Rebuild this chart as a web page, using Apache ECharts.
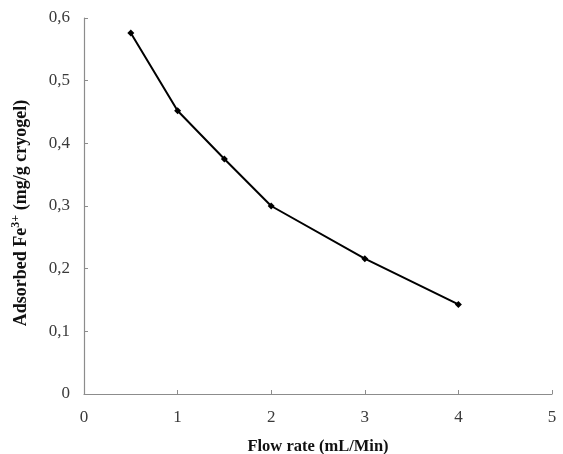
<!DOCTYPE html>
<html>
<head>
<meta charset="utf-8">
<script src="https://cdn.jsdelivr.net/npm/echarts@6/dist/echarts.min.js"></script>
<style>
  html, body { margin: 0; padding: 0; background: #fff; }
  #chart { width: 563px; height: 454px; }
</style>
</head>
<body>
<div id="chart"></div>
<script>
// Flow rate (mL/Min) versus adsorbed Fe3+ (mg/g cryogel)
const flowRates = [0.5, 1, 1.5, 2, 3, 4];
const adsorbed = [0.576, 0.452, 0.375, 0.300, 0.216, 0.143];

const xTicks = [0, 1, 2, 3, 4, 5];
const yTicks = [0, 0.1, 0.2, 0.3, 0.4, 0.5, 0.6];

const serif = '"Liberation Serif", "Times New Roman", serif';
const comma = v => String(+v.toFixed(1)).replace('.', ',');

const chart = echarts.init(document.getElementById('chart'), null, { renderer: 'canvas' });

const axisCommon = {
  axisLine: { show: true, lineStyle: { color: '#8c8c8c', width: 1.2 } },
  axisTick: { show: true, inside: true, length: 4, lineStyle: { color: '#8c8c8c', width: 1 } },
  splitLine: { show: false },
  axisLabel: { color: '#3a3a3a', fontFamily: serif, fontSize: 17 }
};

chart.setOption({
  animation: false,
  backgroundColor: '#fff',
  grid: { left: 84, top: 18, right: 11, bottom: 60, containLabel: false, outerBoundsMode: 'none' },
  xAxis: Object.assign({}, axisCommon, {
    type: 'value',
    min: xTicks[0],
    max: xTicks[xTicks.length - 1],
    interval: 1,
    axisLabel: Object.assign({}, axisCommon.axisLabel, { margin: 15, formatter: v => comma(v) }),
    name: 'Flow rate (mL/Min)',
    nameLocation: 'middle',
    nameGap: 44,
    nameTextStyle: { fontFamily: serif, fontSize: 16.5, fontWeight: 'bold', color: '#111' }
  }),
  yAxis: Object.assign({}, axisCommon, {
    type: 'value',
    min: yTicks[0],
    max: yTicks[yTicks.length - 1],
    interval: 0.1,
    axisLabel: Object.assign({}, axisCommon.axisLabel, { margin: 14, formatter: v => comma(v) }),
    name: '{t|Adsorbed Fe}{sup|3+}{t| (mg/g cryogel)}',
    nameLocation: 'middle',
    nameGap: 54,
    nameRotate: 90,
    nameTextStyle: {
      padding: [0, 14, 0, 0],
      rich: {
        t: { fontFamily: serif, fontSize: 18, fontWeight: 'bold', color: '#111', verticalAlign: 'bottom', lineHeight: 20 },
        sup: { fontFamily: serif, fontSize: 12, fontWeight: 'bold', color: '#111', verticalAlign: 'top', lineHeight: 20, padding: [0, 0, 8, 0] }
      }
    }
  }),
  series: [{
    type: 'line',
    data: flowRates.map((x, i) => [x, adsorbed[i]]),
    symbol: 'diamond',
    symbolSize: 7,
    showSymbol: true,
    lineStyle: { color: '#000', width: 2 },
    itemStyle: { color: '#000' }
  }]
});
</script>
</body>
</html>
